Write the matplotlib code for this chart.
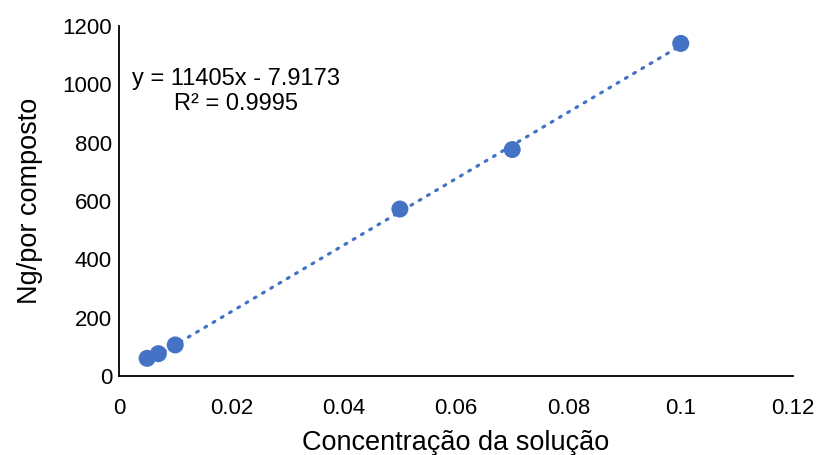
import matplotlib
matplotlib.use("Agg")
import matplotlib.pyplot as plt
import numpy as np

plt.rcParams['font.family'] = ['Liberation Sans', 'DejaVu Sans']

# Calibration data
concentration = [0.005, 0.007, 0.01, 0.05, 0.07, 0.1]
ng_per_compound = [60, 76, 106, 572, 776, 1140]

# Linear trendline reported on the chart
slope = 11405
intercept = -7.9173
r_squared = 0.9995

x_ticks = [0, 0.02, 0.04, 0.06, 0.08, 0.1, 0.12]
x_tick_labels = ['0', '0.02', '0.04', '0.06', '0.08', '0.1', '0.12']
y_ticks = [0, 200, 400, 600, 800, 1000, 1200]

color = '#4472C4'

fig = plt.figure(figsize=(8.21, 4.55), dpi=100)
ax = fig.add_axes([0.145, 0.174, 0.821, 0.769])

xs = np.array([min(concentration), max(concentration)])
ax.plot(xs, slope * xs + intercept, color=color, linewidth=2.3,
        linestyle=(0, (0.6, 2.4)), dash_capstyle='round', zorder=2)
ax.scatter(concentration, ng_per_compound, s=150, color=color, zorder=3,
           edgecolors='none')

ax.set_xlim(0, 0.12)
ax.set_ylim(0, 1200)
ax.set_xticks(x_ticks)
ax.set_xticklabels(x_tick_labels)
ax.set_yticks(y_ticks)
ax.tick_params(axis='both', length=0, labelsize=16)
ax.tick_params(axis='x', pad=16)
ax.tick_params(axis='y', pad=5)

for side in ['top', 'right']:
    ax.spines[side].set_visible(False)
for side in ['left', 'bottom']:
    ax.spines[side].set_linewidth(1.3)
    ax.spines[side].set_color('black')

ax.set_xlabel('Concentração da solução', fontsize=19.5, labelpad=8)
ax.set_ylabel('Ng/por composto', fontsize=19.5, labelpad=14)

ax.text(0.0208, 975, f'y = {slope}x - {abs(intercept)}\nR² = {r_squared}',
        ha='center', va='center', fontsize=17, linespacing=1.2)

fig.savefig('out.png', dpi=100)
